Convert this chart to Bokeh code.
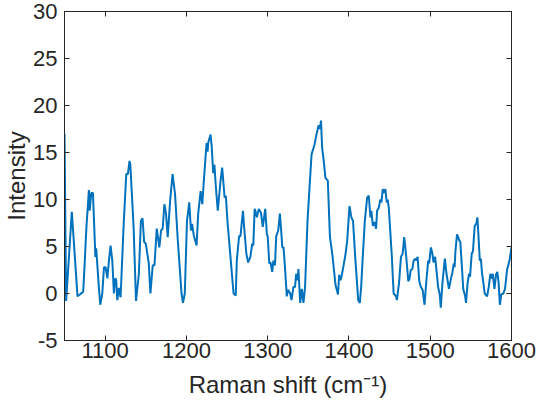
from bokeh.plotting import figure
from bokeh.models import FixedTicker, LinearAxis, Range1d
from bokeh.embed import file_html
from bokeh.resources import INLINE

# Raman shift (cm^-1) and intensity values
raman_shift = [
    1050, 1052, 1059, 1066, 1069, 1073, 1074, 1077, 1080, 1081, 1083, 1085, 1088, 1089,
    1092.5, 1094, 1096.5, 1098.6, 1100.6, 1102.7, 1104.7, 1106.7, 1108.8, 1110.8, 1112,
    1113.5, 1115, 1117, 1119, 1123, 1126, 1128, 1130, 1131, 1135, 1138, 1141.5, 1144,
    1146, 1148, 1150, 1153.7, 1155.7, 1158.6, 1160.7, 1163.5, 1166.7, 1168.8, 1170.8,
    1172.9, 1174.9, 1177, 1180, 1183, 1186, 1189.3, 1194, 1195.8, 1198, 1200.7, 1203.5,
    1205.6, 1207, 1209, 1212.5, 1214.5, 1217.5, 1219.5, 1222, 1224.8, 1226, 1227, 1229.7,
    1231, 1233, 1234.5, 1236, 1238.6, 1242, 1244, 1247, 1248.5, 1250.5, 1254.6, 1258,
    1260.7, 1262, 1264.8, 1266.5, 1269.6, 1271, 1273.8, 1276, 1278.7, 1281, 1282.3,
    1284, 1284.8, 1286.8, 1289, 1291.7, 1294, 1297, 1299, 1300, 1302, 1303.5, 1305.6,
    1307, 1309, 1310.5, 1313, 1315, 1316.6, 1318, 1319.5, 1321.5, 1323.5, 1325, 1327.7,
    1329.3, 1331.7, 1333.7, 1335, 1336.8, 1337.8, 1340, 1342, 1344, 1346, 1349, 1352,
    1354, 1357.5, 1360, 1362.7, 1364.4, 1365.6, 1367, 1369, 1371, 1374, 1376.6, 1379.5,
    1383.5, 1386.5, 1388, 1389.7, 1391.3, 1393, 1395.8, 1397.8, 1400.7, 1403, 1405,
    1408, 1411.4, 1413.4, 1415, 1417, 1419.5, 1422.4, 1424.4, 1426.4, 1427.6, 1429.4,
    1431.4, 1433.4, 1434.6, 1436.6, 1438.7, 1440, 1441.6, 1443, 1444.8, 1446.5, 1447.7,
    1449, 1452.6, 1455, 1458, 1459, 1461.6, 1464, 1466, 1468, 1470.5, 1473, 1474.6,
    1476, 1478, 1479.6, 1481.6, 1482.8, 1484.5, 1486.5, 1488.5, 1490.6, 1493, 1495,
    1497.5, 1498.7, 1500.8, 1502.8, 1504, 1506, 1507.3, 1509.7, 1511.7, 1513, 1515,
    1518, 1520, 1523, 1526, 1527, 1529, 1530, 1531, 1533, 1536, 1537, 1539, 1540.6,
    1543, 1544, 1546, 1547.7, 1549, 1551, 1552.6, 1554.7, 1556.6, 1558, 1559, 1561,
    1562.3, 1563.8, 1565, 1567, 1570, 1572, 1574, 1575.6, 1577, 1579, 1581, 1582.5,
    1584, 1585.7, 1587.4, 1590, 1592, 1594.5, 1597.5, 1600,
]
intensity = [
    17.0, -0.8, 8.7, -0.3, -0.1, 0.2, 1.8, 7.1, 11.0, 8.8, 10.7, 10.7, 3.9, 4.8,
    0.4, -1.2, 0.0, 2.8, 2.8, 1.6, 3.5, 5.1, 3.5, 0.0, 1.6,
    1.5, -0.7, 0.6, -0.4, 7.7, 12.7, 12.7, 14.1, 13.7, 7.1, -0.8, 2.1, 7.7,
    8.0, 5.5, 5.3, 3.2, 0.0, 3.0, 3.0, 6.9, 4.9, 6.7, 6.9,
    9.5, 8.5, 6.0, 9.9, 12.7, 10.6, 5.8, 0.0, -1.0, 0.0, 7.7, 9.7,
    6.7, 7.4, 6.2, 5.1, 8.5, 10.9, 9.5, 12.7, 16.0, 15.1, 16.1, 16.9,
    15.8, 12.8, 13.7, 11.6, 8.8, 12.0, 13.4, 10.2, 10.4, 7.7, 3.5, 0.0,
    -0.2, 3.5, 6.1, 6.1, 8.8, 7.1, 4.2, 3.3, 3.9, 5.3, 5.1,
    9.0, 8.8, 8.1, 9.0, 8.6, 7.1, 9.0, 6.3, 6.1, 3.2, 3.3, 2.3,
    3.5, 3.0, 6.1, 6.7, 8.5, 6.7, 4.9, 4.9, 2.5, -0.3, 0.4, 0.0,
    -0.7, 0.7, 0.7, 2.1, 1.4, 2.6, -1.0, 0.5, -1.0, 0.7, 7.7, 12.0,
    14.8, 15.8, 16.9, 17.9, 17.5, 18.4, 15.5, 14.1, 12.3, 12.0, 6.0, 4.2,
    0.9, -0.1, 2.0, 1.4, 2.0, 2.8, 4.2, 5.6, 9.3, 8.1, 7.7,
    3.5, -0.7, -1.0, 0.7, 3.9, 7.7, 10.2, 10.4, 8.1, 8.8, 7.2,
    7.6, 6.9, 8.8, 9.1, 10.0, 9.7, 11.1, 10.7, 11.1, 9.7, 10.0,
    9.1, 4.2, 0.0, -0.3, -0.7, 1.1, 3.9, 4.2, 6.0, 3.9, 1.3, 1.6,
    2.5, 2.6, 3.5, 3.7, 3.5, 3.9, 1.3, 0.7, 0.4, -1.2, 1.1,
    3.5, 3.2, 4.9, 4.2, 3.3, 3.9, 2.8, 0.7, -0.1, -1.5, 1.1,
    3.7, 2.1, 0.5, 1.8, 2.1, 3.2, 2.8, 4.5, 6.3, 5.6, 5.5, 2.8, 0.5,
    -0.3, -1.0, 1.1, 2.1, 1.8, 4.2, 4.5, 7.2, 7.4, 8.1, 6.7, 3.5,
    3.7, 2.1, 1.4, 0.0, -0.3, 0.7, 2.1, 1.6, 2.1, 0.5, 2.0, 2.3,
    1.3, -1.2, -0.1, 0.0, 0.5, 2.5, 3.5, 4.9,
]
x_ticks = [1100, 1200, 1300, 1400, 1500, 1600]
y_ticks = [-5, 0, 5, 10, 15, 20, 25, 30]
x_title = "Raman shift (cm\u207b\u00b9)"
y_title = "Intensity"

FONT = "Liberation Sans"
INK = "#262626"

p = figure(
    output_backend="svg", toolbar_location=None,
    width=537, height=404,
    min_border_left=62, min_border_right=26, min_border_top=11, min_border_bottom=64,
    x_range=Range1d(1050, 1600), y_range=Range1d(-5, 30),
    x_axis_label=x_title, y_axis_label=y_title,
)
p.line(raman_shift, intensity, line_color="#0072BD", line_width=2)

p.grid.visible = False
p.outline_line_color = INK
p.outline_line_width = 1
p.background_fill_color = "white"
p.border_fill_color = "white"

for ax, ticks in ((p.xaxis[0], x_ticks), (p.yaxis[0], y_ticks)):
    ax.ticker = FixedTicker(ticks=ticks)
    ax.axis_line_color = INK
    ax.major_tick_line_color = INK
    ax.major_tick_in = 5
    ax.major_tick_out = 0
    ax.minor_tick_line_color = None
    ax.major_label_text_font = FONT
    ax.major_label_text_font_size = "22px"
    ax.major_label_text_color = INK
    ax.axis_label_text_font = FONT
    ax.axis_label_text_font_size = "24px"
    ax.axis_label_text_font_style = "normal"
    ax.axis_label_text_color = INK

p.yaxis.major_label_overrides = {t: str(t) for t in y_ticks}
p.xaxis.major_label_standoff = 2
p.xaxis.axis_label_standoff = 10
p.yaxis.major_label_standoff = 7
p.yaxis.axis_label_standoff = 0

for side, ticks in (("right", y_ticks), ("above", x_ticks)):
    ax = LinearAxis(ticker=FixedTicker(ticks=ticks))
    ax.major_label_text_font_size = "0px"
    ax.major_label_text_color = None
    ax.axis_line_color = INK
    ax.major_tick_line_color = INK
    ax.major_tick_in = 5
    ax.major_tick_out = 0
    ax.minor_tick_line_color = None
    ax.major_label_standoff = 0
    p.add_layout(ax, side)

open("out.html", "w").write(file_html(p, INLINE))
